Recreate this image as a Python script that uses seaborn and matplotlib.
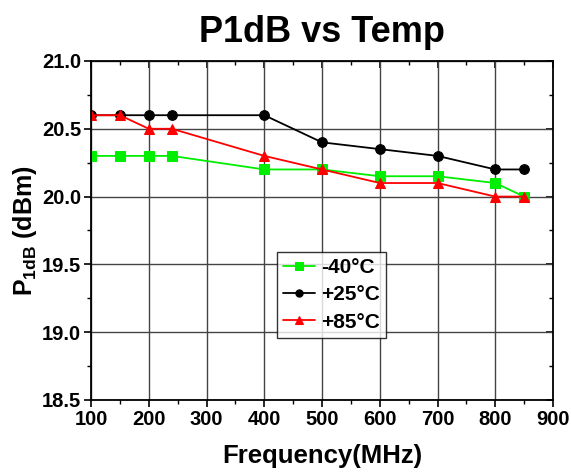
import matplotlib
matplotlib.use("Agg")
import matplotlib.pyplot as plt
import seaborn as sns
import pandas as pd
from matplotlib.ticker import MultipleLocator

sns.set_theme(style="white")
plt.rcParams['font.family'] = ['Liberation Sans', 'DejaVu Sans']
plt.rcParams['font.weight'] = 'bold'
plt.rcParams['text.color'] = 'black'
plt.rcParams['axes.labelcolor'] = 'black'
plt.rcParams['xtick.color'] = 'black'
plt.rcParams['ytick.color'] = 'black'
plt.rcParams['mathtext.fontset'] = 'custom'
plt.rcParams['mathtext.bf'] = 'Liberation Sans:bold'
plt.rcParams['mathtext.rm'] = 'Liberation Sans:bold'

freq = [100, 150, 200, 240, 400, 500, 600, 700, 800, 850]
m40 = [20.3, 20.3, 20.3, 20.3, 20.2, 20.2, 20.15, 20.15, 20.1, 20.0]
p25 = [20.6, 20.6, 20.6, 20.6, 20.6, 20.4, 20.35, 20.3, 20.2, 20.2]
p85 = [20.6, 20.6, 20.5, 20.5, 20.3, 20.2, 20.1, 20.1, 20.0, 20.0]
labels = ["-40\u00b0C", "+25\u00b0C", "+85\u00b0C"]
colors = ["#00ee00", "black", "red"]
markers = ["s", "o", "^"]
xticks = [100, 200, 300, 400, 500, 600, 700, 800, 900]
yticks = [18.5, 19.0, 19.5, 20.0, 20.5, 21.0]

fig = plt.figure(figsize=(5.71, 4.76), dpi=100)
ax = fig.add_axes([0.1594, 0.1597, 0.8091, 0.7122])

for vals, lab, c, mk in zip([m40, p25, p85], labels, colors, markers):
    df = pd.DataFrame({"f": freq, "v": vals})
    sns.lineplot(data=df, x="f", y="v", ax=ax, color=c, marker=mk, markersize=7,
                 markeredgecolor=c, linewidth=1.3, label=lab)

ax.set_xticks(xticks)
ax.set_xticklabels([f"{t}" for t in xticks], fontsize=14.5, fontweight='bold')
ax.set_yticks(yticks)
ax.set_yticklabels([f"{t:.1f}" for t in yticks], fontsize=14.5, fontweight='bold')
ax.xaxis.set_minor_locator(MultipleLocator(50))
ax.yaxis.set_minor_locator(MultipleLocator(0.25))
ax.set_xlim(100, 900)
ax.set_ylim(18.5, 21.0)
ax.grid(True, which='major', color='#444444', linewidth=1.0)
for s in ax.spines.values():
    s.set_color('black')
    s.set_linewidth(1.3)
ax.tick_params(axis='both', which='major', direction='out', length=5, width=1.2,
               colors='black', bottom=True, left=True, top=False, right=False, pad=2)
ax.tick_params(axis='both', which='minor', direction='out', length=3, width=1.0,
               bottom=True, left=True, colors='black')

# inward ticks on top/right
secx = ax.secondary_xaxis('top')
secx.set_xticks(xticks)
secx.xaxis.set_minor_locator(MultipleLocator(50))
secx.tick_params(which='major', direction='in', length=5, width=1.2, labeltop=False, colors='black')
secx.tick_params(which='minor', direction='in', length=3, width=1.0, colors='black')
secx.spines['top'].set_visible(False)
secy = ax.secondary_yaxis('right')
secy.set_yticks(yticks)
secy.yaxis.set_minor_locator(MultipleLocator(0.25))
secy.tick_params(which='major', direction='in', length=5, width=1.2, labelright=False, colors='black')
secy.tick_params(which='minor', direction='in', length=3, width=1.0, colors='black')
secy.spines['right'].set_visible(False)

ax.set_xlabel("Frequency(MHz)", fontsize=18.5, fontweight='bold', labelpad=11)
ax.set_ylabel("P$_{\\mathbf{1dB}}$ (dBm)", fontsize=18, fontweight='bold', labelpad=2)
ax.set_title("P1dB vs Temp", fontsize=26, fontweight='bold', pad=14)

leg = ax.legend(loc='lower left', bbox_to_anchor=(0.4026, 0.183), frameon=True,
                fancybox=False, edgecolor='black', fontsize=15, handlelength=1.5,
                borderpad=0.3, labelspacing=0.4, handletextpad=0.3, borderaxespad=0,
                markerscale=0.75)
leg.get_frame().set_linewidth(1.0)
for t in leg.get_texts():
    t.set_fontweight('bold')

fig.savefig("out.png", dpi=100)
